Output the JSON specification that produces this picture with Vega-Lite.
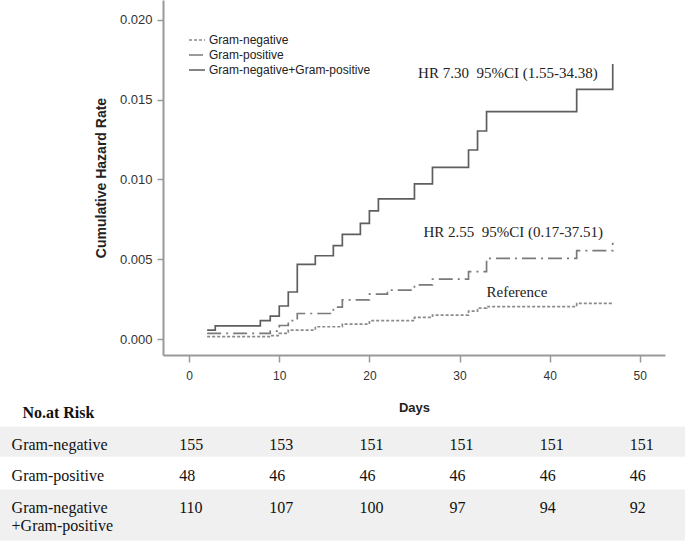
{
  "$schema": "https://vega.github.io/schema/vega-lite/v6.json",
  "width": 685,
  "height": 541,
  "autosize": "none",
  "padding": 0,
  "background": "white",
  "config": {"view": {"stroke": null}, "axis": {"grid": false}},
  "datasets": {
    "curves": [
      {"group": "Gram-negative", "day": 2.0, "rate": 0.00015},
      {"group": "Gram-negative", "day": 9.0, "rate": 0.00022},
      {"group": "Gram-negative", "day": 10.0, "rate": 0.00035},
      {"group": "Gram-negative", "day": 11.0, "rate": 0.00056},
      {"group": "Gram-negative", "day": 14.0, "rate": 0.00077},
      {"group": "Gram-negative", "day": 17.0, "rate": 0.00094},
      {"group": "Gram-negative", "day": 20.0, "rate": 0.00115},
      {"group": "Gram-negative", "day": 25.0, "rate": 0.00136},
      {"group": "Gram-negative", "day": 27.0, "rate": 0.0015},
      {"group": "Gram-negative", "day": 31.0, "rate": 0.00175},
      {"group": "Gram-negative", "day": 32.0, "rate": 0.00194},
      {"group": "Gram-negative", "day": 33.0, "rate": 0.00203},
      {"group": "Gram-negative", "day": 43.0, "rate": 0.00224},
      {"group": "Gram-negative", "day": 47.0, "rate": 0.00224},
      {"group": "Gram-positive", "day": 2.0, "rate": 0.00035},
      {"group": "Gram-positive", "day": 9.0, "rate": 0.0005},
      {"group": "Gram-positive", "day": 10.0, "rate": 0.00085},
      {"group": "Gram-positive", "day": 11.0, "rate": 0.00115},
      {"group": "Gram-positive", "day": 12.0, "rate": 0.0016},
      {"group": "Gram-positive", "day": 16.0, "rate": 0.002},
      {"group": "Gram-positive", "day": 17.0, "rate": 0.00245},
      {"group": "Gram-positive", "day": 20.0, "rate": 0.00282},
      {"group": "Gram-positive", "day": 22.0, "rate": 0.00307},
      {"group": "Gram-positive", "day": 25.0, "rate": 0.00339},
      {"group": "Gram-positive", "day": 27.0, "rate": 0.00376},
      {"group": "Gram-positive", "day": 31.0, "rate": 0.00422},
      {"group": "Gram-positive", "day": 33.0, "rate": 0.00506},
      {"group": "Gram-positive", "day": 43.0, "rate": 0.00554},
      {"group": "Gram-positive", "day": 47.0, "rate": 0.00604},
      {"group": "Gram-negative+Gram-positive", "day": 2.0, "rate": 0.00056},
      {"group": "Gram-negative+Gram-positive", "day": 2.9, "rate": 0.00083},
      {"group": "Gram-negative+Gram-positive", "day": 7.9, "rate": 0.00115},
      {"group": "Gram-negative+Gram-positive", "day": 9.0, "rate": 0.00144},
      {"group": "Gram-negative+Gram-positive", "day": 10.0, "rate": 0.00207},
      {"group": "Gram-negative+Gram-positive", "day": 11.0, "rate": 0.00295},
      {"group": "Gram-negative+Gram-positive", "day": 12.0, "rate": 0.00468},
      {"group": "Gram-negative+Gram-positive", "day": 14.0, "rate": 0.00522},
      {"group": "Gram-negative+Gram-positive", "day": 16.0, "rate": 0.00585},
      {"group": "Gram-negative+Gram-positive", "day": 17.0, "rate": 0.00656},
      {"group": "Gram-negative+Gram-positive", "day": 19.0, "rate": 0.00725},
      {"group": "Gram-negative+Gram-positive", "day": 20.0, "rate": 0.00803},
      {"group": "Gram-negative+Gram-positive", "day": 21.0, "rate": 0.00878},
      {"group": "Gram-negative+Gram-positive", "day": 25.0, "rate": 0.00972},
      {"group": "Gram-negative+Gram-positive", "day": 27.0, "rate": 0.01076},
      {"group": "Gram-negative+Gram-positive", "day": 31.0, "rate": 0.01185},
      {"group": "Gram-negative+Gram-positive", "day": 32.0, "rate": 0.01304},
      {"group": "Gram-negative+Gram-positive", "day": 33.0, "rate": 0.01425},
      {"group": "Gram-negative+Gram-positive", "day": 43.0, "rate": 0.01565},
      {"group": "Gram-negative+Gram-positive", "day": 47.0, "rate": 0.01724}
    ],
    "notes": [
      {"day": 25.4, "rate": 0.01668, "text": "HR 7.30\u00a0\u00a095%CI (1.55-34.38)"},
      {"day": 26.0, "rate": 0.00671, "text": "HR 2.55\u00a0\u00a095%CI (0.17-37.51)"},
      {"day": 33.0, "rate": 0.00295, "text": "Reference"}
    ],
    "rows": [
      {"row": "header", "label": "No.at Risk"},
      {"row": "Gram-negative", "label": "Gram-negative"},
      {"row": "Gram-positive", "label": "Gram-positive"},
      {"row": "Gram-negative+Gram-positive", "label": ["Gram-negative", "+Gram-positive"]}
    ],
    "risk": [
      {"row": "Gram-negative", "day": 0, "n": 155},
      {"row": "Gram-negative", "day": 10, "n": 153},
      {"row": "Gram-negative", "day": 20, "n": 151},
      {"row": "Gram-negative", "day": 30, "n": 151},
      {"row": "Gram-negative", "day": 40, "n": 151},
      {"row": "Gram-negative", "day": 50, "n": 151},
      {"row": "Gram-positive", "day": 0, "n": 48},
      {"row": "Gram-positive", "day": 10, "n": 46},
      {"row": "Gram-positive", "day": 20, "n": 46},
      {"row": "Gram-positive", "day": 30, "n": 46},
      {"row": "Gram-positive", "day": 40, "n": 46},
      {"row": "Gram-positive", "day": 50, "n": 46},
      {"row": "Gram-negative+Gram-positive", "day": 0, "n": 110},
      {"row": "Gram-negative+Gram-positive", "day": 10, "n": 107},
      {"row": "Gram-negative+Gram-positive", "day": 20, "n": 100},
      {"row": "Gram-negative+Gram-positive", "day": 30, "n": 97},
      {"row": "Gram-negative+Gram-positive", "day": 40, "n": 94},
      {"row": "Gram-negative+Gram-positive", "day": 50, "n": 92}
    ]
  },
  "resolve": {"scale": {"y": "independent"}, "axis": {"y": "independent"}},
  "layer": [
    {
      "layer": [
        {
          "data": {"name": "rows"},
          "transform": [{"filter": "datum.row === 'Gram-negative'"}],
          "mark": {"type": "rule", "color": "#f0f0f0", "strokeWidth": 30, "yOffset": 5},
          "encoding": {
            "y": {"field": "row", "type": "nominal", "scale": {"type": "point", "domain": ["header", "Gram-negative", "Gram-positive", "Gram-negative+Gram-positive"], "range": [405, 500], "padding": 0}, "axis": null}
          }
        },
        {
          "data": {"name": "rows"},
          "transform": [{"filter": "datum.row === 'Gram-negative+Gram-positive'"}],
          "mark": {"type": "rule", "color": "#f0f0f0", "strokeWidth": 51, "yOffset": 15},
          "encoding": {
            "y": {"field": "row", "type": "nominal", "axis": null}
          }
        },
        {
          "data": {"name": "rows"},
          "transform": [{"filter": "datum.row !== 'header'"}],
          "mark": {"type": "text", "align": "left", "baseline": "top", "font": "Liberation Serif", "fontSize": 16, "lineHeight": 18, "color": "#111"},
          "encoding": {
            "x": {"datum": -19.7, "type": "quantitative"},
            "y": {"field": "row", "type": "nominal", "axis": null},
            "text": {"field": "label"}
          }
        },
        {
          "data": {"name": "rows"},
          "transform": [{"filter": "datum.row === 'header'"}],
          "mark": {"type": "text", "align": "left", "baseline": "top", "font": "Liberation Serif", "fontSize": 16, "fontWeight": "bold", "color": "#111"},
          "encoding": {
            "x": {"datum": -18.5, "type": "quantitative"},
            "y": {"field": "row", "type": "nominal", "axis": null},
            "text": {"field": "label"}
          }
        },
        {
          "data": {"name": "risk"},
          "mark": {"type": "text", "align": "left", "baseline": "top", "font": "Liberation Serif", "fontSize": 16, "color": "#111", "dx": -10},
          "encoding": {
            "x": {"field": "day", "type": "quantitative"},
            "y": {"field": "row", "type": "nominal", "axis": null},
            "text": {"field": "n"}
          }
        }
      ]
    },
    {
      "layer": [
        {
          "data": {"name": "curves"},
          "mark": {"type": "line", "interpolate": "step-after", "strokeWidth": 1.7},
          "encoding": {
            "x": {
              "field": "day", "type": "quantitative",
              "scale": {"domain": [-2.9, 52.8], "range": [163, 665], "nice": false, "zero": false},
              "axis": {"title": "Days", "values": [0, 10, 20, 30, 40, 50], "offset": -186, "domainColor": "#999", "domainWidth": 2, "tickColor": "#999", "tickWidth": 1.5, "tickSize": 7, "labelFont": "Liberation Sans", "labelFontSize": 12, "labelColor": "#333", "labelPadding": 8, "labelFlush": false, "titleFont": "Liberation Sans", "titleFontSize": 13, "titleFontWeight": "bold", "titleColor": "#222", "titlePadding": 20}
            },
            "y": {
              "field": "rate", "type": "quantitative",
              "scale": {"domain": [-0.001, 0.02125], "range": [355, 0], "nice": false, "zero": false},
              "axis": {"title": "Cumulative Hazard Rate", "values": [0, 0.005, 0.01, 0.015, 0.02], "format": ".3f", "orient": "left", "offset": -163, "domainColor": "#999", "domainWidth": 2, "tickColor": "#999", "tickWidth": 1.5, "tickSize": 6, "labelFont": "Liberation Sans", "labelFontSize": 13, "labelColor": "#333", "labelPadding": 5, "titleFont": "Liberation Sans", "titleFontSize": 14, "titleFontWeight": "bold", "titleColor": "#222", "titlePadding": 11}
            },
            "color": {
              "field": "group", "type": "nominal",
              "scale": {"domain": ["Gram-negative", "Gram-positive", "Gram-negative+Gram-positive"], "range": ["#8a8a8a", "#7a7a7a", "#5e5e5e"]},
              "legend": {"title": null, "orient": "none", "legendX": 188, "legendY": 31, "symbolType": "stroke", "symbolSize": 256, "symbolStrokeWidth": 1.5, "labelFont": "Liberation Sans", "labelFontSize": 12, "labelColor": "#222", "labelOffset": 3, "labelLimit": 0, "rowPadding": 0, "padding": 0}
            },
            "strokeDash": {
              "field": "group", "type": "nominal",
              "scale": {"domain": ["Gram-negative", "Gram-positive", "Gram-negative+Gram-positive"], "range": [[3, 2], [14, 5, 2, 5], [1, 0]]},
              "legend": {"title": null, "orient": "none", "legendX": 188, "legendY": 31, "symbolType": "stroke", "symbolSize": 256, "symbolStrokeWidth": 1.5, "labelFont": "Liberation Sans", "labelFontSize": 12, "labelColor": "#222", "labelOffset": 3, "labelLimit": 0, "rowPadding": 0, "padding": 0}
            }
          }
        },
        {
          "data": {"name": "notes"},
          "mark": {"type": "text", "align": "left", "baseline": "middle", "font": "Liberation Serif", "fontSize": 15, "color": "#222"},
          "encoding": {
            "x": {"field": "day", "type": "quantitative"},
            "y": {"field": "rate", "type": "quantitative"},
            "text": {"field": "text"}
          }
        }
      ]
    }
  ]
}
